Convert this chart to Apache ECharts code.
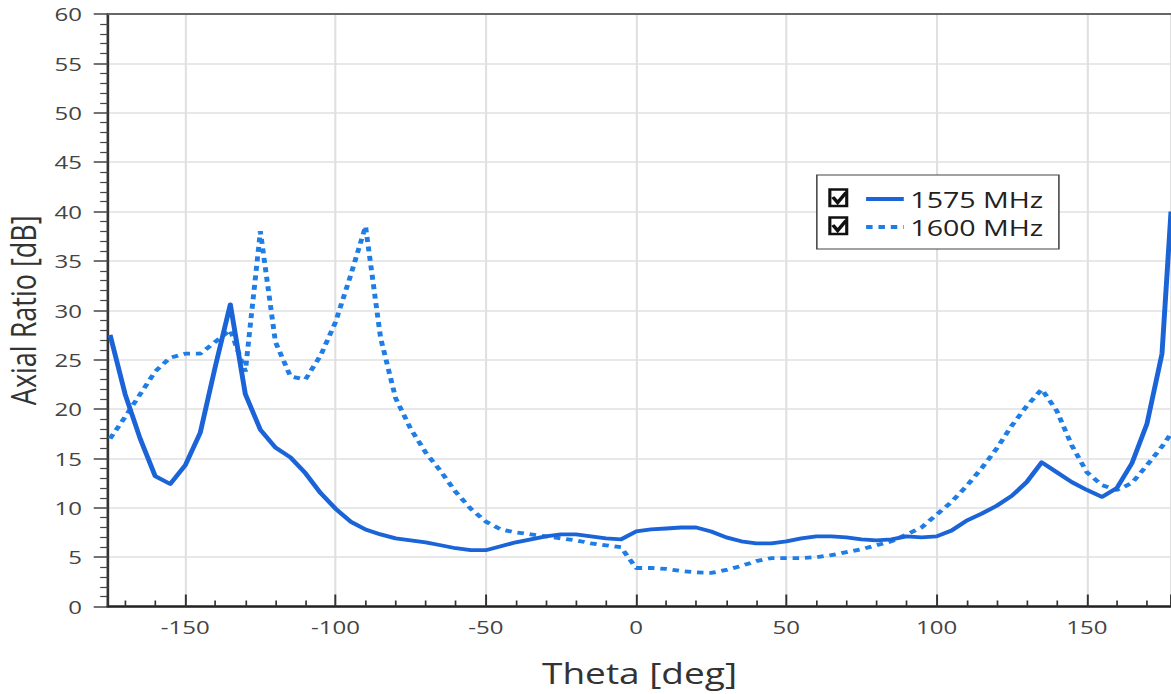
<!DOCTYPE html>
<html>
<head>
<meta charset="utf-8">
<title>Axial Ratio vs Theta</title>
<script src="https://cdn.jsdelivr.net/npm/echarts@6/dist/echarts.min.js"></script>
<style>
  html, body { margin: 0; padding: 0; background: #fff; overflow: hidden; }
  /* the plot is laid out on a narrower canvas and widened to the window */
  #chart { width: 901px; height: 694px; transform: scaleX(1.29967); transform-origin: 0 0; }
</style>
</head>
<body>
<div id="chart"></div>
<script>
// Theta samples in degrees
const thetaDeg = [
  -175, -170, -165, -160, -155, -150, -145, -140, -135, -130,
  -125, -120, -115, -110, -105, -100, -95, -90, -85, -80,
  -75, -70, -65, -60, -55, -50, -45, -40, -35, -30,
  -25, -20, -15, -10, -5, 0, 5, 10, 15, 20,
  25, 30, 35, 40, 45, 50, 55, 60, 65, 70,
  75, 80, 85, 90, 95, 100, 105, 110, 115, 120,
  125, 130, 135, 140, 145, 150, 155, 160, 165, 170,
  175, 178
];

// Axial ratio in dB at 1575 MHz
const ar1575 = [
  27.5, 21.5, 17.0, 13.2, 12.4, 14.3, 17.6, 24.3, 30.6, 21.5,
  17.9, 16.1, 15.1, 13.5, 11.5, 9.9, 8.6, 7.8, 7.3, 6.9,
  6.7, 6.5, 6.2, 5.9, 5.7, 5.7, 6.1, 6.5, 6.8, 7.1,
  7.3, 7.3, 7.1, 6.9, 6.8, 7.6, 7.8, 7.9, 8.0, 8.0,
  7.6, 7.0, 6.6, 6.4, 6.4, 6.6, 6.9, 7.1, 7.1, 7.0,
  6.8, 6.7, 6.8, 7.1, 7.0, 7.1, 7.7, 8.7, 9.4, 10.2,
  11.2, 12.6, 14.6, 13.6, 12.6, 11.8, 11.1, 12.0, 14.5, 18.5,
  25.6, 40.0
];

// Axial ratio in dB at 1600 MHz
const ar1600 = [
  17.0, 19.2, 21.5, 23.8, 25.2, 25.6, 25.6, 26.8, 28.0, 23.8,
  38.0, 26.8, 23.3, 23.0, 25.4, 28.8, 33.5, 38.5, 27.2, 21.1,
  18.0, 15.6, 13.7, 11.6, 9.9, 8.6, 7.8, 7.5, 7.3, 7.1,
  6.9, 6.7, 6.4, 6.2, 6.0, 3.9, 3.9, 3.8, 3.6, 3.45,
  3.4, 3.7, 4.1, 4.6, 4.9, 4.9, 4.9, 5.0, 5.2, 5.5,
  5.8, 6.2, 6.6, 7.3, 8.0, 9.3, 10.6, 12.2, 14.0, 16.0,
  18.3, 20.3, 22.0, 19.8, 16.3, 13.6, 12.3, 11.8, 12.5, 14.3,
  16.2, 17.5
];

const seriesNames = ['1575 MHz', '1600 MHz'];
const yTicks = { min: 0, max: 60, step: 5 };
const thetaRange = { min: -175.7, max: 178 };

const FONT = '"Open Sans", "Noto Sans", sans-serif';
const BLUE_SOLID = '#1a64d8';
const BLUE_DOT = '#1f7ee6';
const LINE_W = 3.8;

const pairs = (vals) => thetaDeg.map((t, i) => [t, vals[i]]);

// check-box marks drawn beside the legend rows
function checkBox(y) {
  return [
    { type: 'rect', z: 100, shape: { x: 638.5, y: y, width: 13, height: 16.5 },
      style: { fill: '#fff', stroke: '#111', lineWidth: 2.4 } },
    { type: 'polyline', z: 101, shape: { points: [[640.8, y + 7.5], [644.5, y + 13], [651, y + 3]] },
      style: { fill: null, stroke: '#111', lineWidth: 3 } }
  ];
}

const chart = echarts.init(document.getElementById('chart'), null, { renderer: 'svg' });

chart.setOption({
  animation: false,
  backgroundColor: '#fff',
  textStyle: { fontFamily: FONT },
  grid: { left: 83.1, right: 0, top: 14, bottom: 87.5, containLabel: false, outerBoundsMode: 'none' },
  legend: {
    data: seriesNames,
    orient: 'vertical',
    left: 628.5,
    top: 175,
    padding: [10, 12, 8, 36],
    itemGap: 0,
    itemWidth: 29,
    itemHeight: 14,
    selectedMode: false,
    backgroundColor: '#fff',
    borderColor: '#444',
    borderWidth: 1.2,
    borderRadius: 0,
    itemStyle: { opacity: 0 },
    lineStyle: { width: LINE_W },
    textStyle: { fontSize: 22, lineHeight: 28, color: '#222', fontFamily: FONT }
  },
  graphic: [].concat(checkBox(189.5), checkBox(217.5)),
  xAxis: [
    {
      type: 'value',
      min: thetaRange.min,
      max: thetaRange.max,
      splitNumber: 7,
      name: 'Theta [deg]',
      nameLocation: 'middle',
      nameGap: 52,
      nameTextStyle: { fontSize: 28.5, color: '#333', fontFamily: FONT },
      axisLine: { show: true, onZero: false, lineStyle: { color: '#222', width: 2.5 } },
      axisTick: { show: true, inside: true, length: 12, lineStyle: { color: '#333', width: 1.5 } },
      minorTick: { show: true, splitNumber: 5, length: 6, lineStyle: { color: '#333', width: 1.3 } },
      axisLabel: { margin: 11, fontSize: 18.5, color: '#444', showMinLabel: false, showMaxLabel: false, fontFamily: FONT },
      splitLine: { show: true, lineStyle: { color: '#e0e0e0', width: 1.6 } }
    },
    {
      type: 'value',
      position: 'top',
      min: thetaRange.min,
      max: thetaRange.max,
      axisLine: { show: true, onZero: false, lineStyle: { color: '#666', width: 2 } },
      axisTick: { show: false },
      axisLabel: { show: false },
      splitLine: { show: false }
    }
  ],
  yAxis: {
    type: 'value',
    min: yTicks.min,
    max: yTicks.max,
    interval: yTicks.step,
    name: 'Axial Ratio [dB]',
    nameLocation: 'middle',
    nameGap: 50,
    nameTextStyle: { fontSize: 27, color: '#333', fontFamily: FONT },
    axisLine: { show: true, onZero: false, lineStyle: { color: '#333', width: 2 } },
    axisTick: { show: true, inside: false, length: 11, lineStyle: { color: '#444', width: 1.5 } },
    minorTick: { show: true, splitNumber: 5, length: 6, lineStyle: { color: '#444', width: 1.2 } },
    axisLabel: { margin: 20, fontSize: 18.5, color: '#444', fontFamily: FONT },
    splitLine: { show: true, lineStyle: { color: '#e0e0e0', width: 1.6 } }
  },
  series: [
    {
      name: seriesNames[0],
      type: 'line',
      xAxisIndex: 0,
      data: pairs(ar1575),
      symbol: 'none',
      lineStyle: { color: BLUE_SOLID, width: LINE_W, type: 'solid', join: 'round' },
      itemStyle: { color: BLUE_SOLID },
      z: 3
    },
    {
      name: seriesNames[1],
      type: 'line',
      xAxisIndex: 0,
      data: pairs(ar1600),
      symbol: 'none',
      lineStyle: { color: BLUE_DOT, width: LINE_W, type: [5, 4.5] },
      itemStyle: { color: BLUE_DOT },
      z: 2
    }
  ]
});
</script>
</body>
</html>
